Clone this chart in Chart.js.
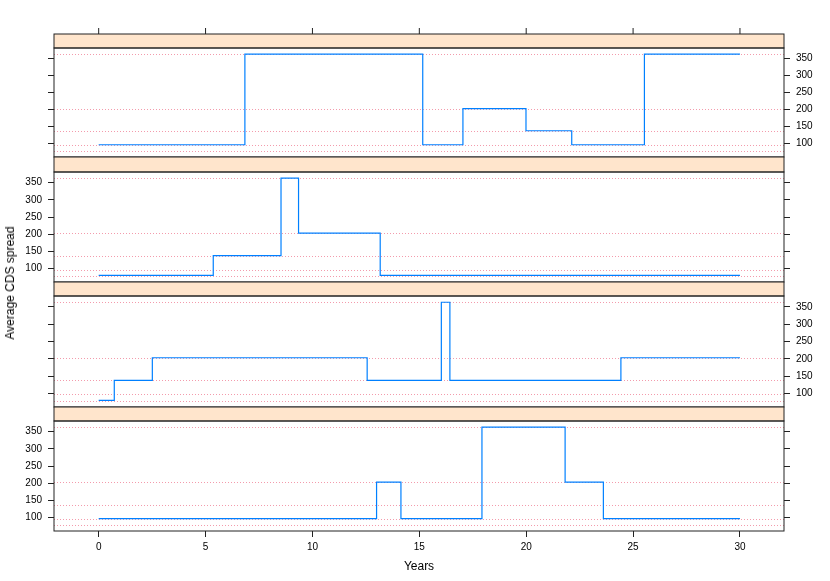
<!DOCTYPE html>
<html>
<head>
<meta charset="utf-8">
<script src="https://cdn.jsdelivr.net/npm/chart.js@4.4.1/dist/chart.umd.min.js"></script>
<style>
  body { margin: 0; background: #fff; }
  #wrap { position: relative; width: 830px; height: 581px; overflow: hidden; }
  .panel { position: absolute; left: 0; width: 830px; }
  #ylab {
    position: absolute; left: 10px; top: 283px;
    transform: translate(-50%, -50%) rotate(-90deg);
    font: 12px "Liberation Sans", Arial, sans-serif; white-space: nowrap; color: #000;
  }
</style>
</head>
<body>
<div id="wrap">
  <div class="panel" id="p1" style="top:18px;height:141px"><canvas id="c1"></canvas></div>
  <div class="panel" id="p2" style="top:155px;height:129px"><canvas id="c2"></canvas></div>
  <div class="panel" id="p3" style="top:280px;height:129px"><canvas id="c3"></canvas></div>
  <div class="panel" id="p4" style="top:405px;height:176px"><canvas id="c4"></canvas></div>
  <div id="ylab">Average CDS spread</div>
</div>
<script>
// Datos: años donde cambia el nivel y spread desde ese punto
const years1 = [0, 6.84, 15.16, 17.04, 19.99, 22.13, 25.53, 30];
const spread1 = [97, 363, 97, 203, 138, 97, 363, 363];

const years2 = [0, 5.36, 8.53, 9.35, 13.17, 30];
const spread2 = [80, 138, 363, 203, 80, 80];

const years3 = [0, 0.73, 2.51, 12.56, 16.03, 16.43, 24.43, 30];
const spread3 = [80, 138, 203, 138, 363, 138, 203, 203];

const years4 = [0, 13.0, 14.14, 17.93, 21.82, 23.61, 30];
const spread4 = [97, 203, 97, 363, 203, 97, 97];

// Niveles de referencia (lineas punteadas)
const refLevels = [79.6, 97.1, 138, 203, 363];

const xTicks = [0, 5, 10, 15, 20, 25, 30];
const yTicks = [100, 150, 200, 250, 300, 350];

const xMin = -2.09, xMax = 32.06;
const yMin = 61, yMax = 381;

const lineColor = '#0080ff';
const refColor = 'rgb(243,155,172)';
const stripColor = '#ffe5cc';
const frameColor = '#222';
const fontFamily = '"Liberation Sans", Arial, sans-serif';

// Tira, marco y lineas de referencia
const panelDeco = {
  id: 'panelDeco',
  beforeDatasetsDraw(chart) {
    const { ctx, chartArea: a, scales } = chart;
    ctx.save();
    ctx.strokeStyle = refColor;
    ctx.lineWidth = 1;
    ctx.setLineDash([1, 2]);
    refLevels.forEach(v => {
      const y = Math.round(scales.y.getPixelForValue(v)) + 0.5;
      ctx.beginPath();
      ctx.moveTo(a.left, y);
      ctx.lineTo(a.right, y);
      ctx.stroke();
    });
    ctx.restore();
  },
  afterDraw(chart, args, opts) {
    const { ctx, chartArea: a, scales } = chart;
    ctx.save();
    ctx.fillStyle = stripColor;
    ctx.fillRect(a.left, a.top - opts.strip, a.right - a.left, opts.strip);
    ctx.strokeStyle = frameColor;
    ctx.lineWidth = 1;
    ctx.strokeRect(a.left, a.top - opts.strip, a.right - a.left, opts.strip);
    ctx.strokeRect(a.left, a.top, a.right - a.left, a.bottom - a.top);
    if (opts.topTicks) {
      const y0 = a.top - opts.strip;
      ctx.beginPath();
      xTicks.forEach(v => {
        const x = scales.x.getPixelForValue(v);
        ctx.moveTo(x, y0);
        ctx.lineTo(x, y0 - 6);
      });
      ctx.stroke();
    }
    ctx.restore();
  }
};

function yAxis(position, showLabels, width) {
  return {
    type: 'linear',
    position: position,
    min: yMin,
    max: yMax,
    afterBuildTicks: s => { s.ticks = yTicks.map(v => ({ value: v })); },
    afterFit: s => {
      s.width = width;
      s.paddingTop = 0;
      s.paddingBottom = 0;
    },
    border: { display: false },
    grid: { drawOnChartArea: false, drawTicks: true, tickLength: 6, color: frameColor, lineWidth: 1 },
    ticks: { display: showLabels, padding: 6, color: '#000', font: { family: fontFamily, size: 10 } }
  };
}

function makePanel(id, xs, ys, cfg) {
  const pts = xs.map((x, i) => ({ x: x, y: ys[i] }));
  return new Chart(document.getElementById(id), {
    type: 'line',
    data: {
      datasets: [{
        data: pts,
        stepped: true,
        borderColor: lineColor,
        borderWidth: 1.2,
        pointRadius: 0,
        fill: false
      }]
    },
    options: {
      responsive: true,
      maintainAspectRatio: false,
      animation: false,
      layout: { padding: { top: cfg.padTop, bottom: cfg.padBottom, left: 0, right: 0 } },
      plugins: {
        legend: { display: false },
        tooltip: { enabled: false },
        panelDeco: { strip: cfg.strip, topTicks: cfg.topTicks }
      },
      scales: {
        x: {
          type: 'linear',
          min: xMin,
          max: xMax,
          display: cfg.xAxis,
          afterBuildTicks: s => { s.ticks = xTicks.map(v => ({ value: v })); },
          afterFit: s => {
            s.height = cfg.xAxis ? 50 : 0;
            s.paddingLeft = 0;
            s.paddingRight = 0;
          },
          border: { display: false },
          grid: { drawOnChartArea: false, drawTicks: true, tickLength: 6, color: frameColor, lineWidth: 1 },
          ticks: { padding: 4, maxRotation: 0, color: '#000', font: { family: fontFamily, size: 10 } },
          title: { display: true, text: 'Years', color: '#000', padding: { top: 4, bottom: 7 }, font: { family: fontFamily, size: 12 } }
        },
        y: yAxis('left', cfg.labels === 'left', 54),
        y2: yAxis('right', cfg.labels === 'right', 46)
      }
    },
    plugins: [panelDeco]
  });
}

makePanel('c1', years1, spread1, { padTop: 30, padBottom: 2, strip: 14, topTicks: true, xAxis: false, labels: 'right' });
makePanel('c2', years2, spread2, { padTop: 17, padBottom: 2, strip: 15, topTicks: false, xAxis: false, labels: 'left' });
makePanel('c3', years3, spread3, { padTop: 16, padBottom: 2, strip: 14, topTicks: false, xAxis: false, labels: 'right' });
makePanel('c4', years4, spread4, { padTop: 16, padBottom: 0, strip: 14, topTicks: false, xAxis: true, labels: 'left' });
</script>
</body>
</html>
